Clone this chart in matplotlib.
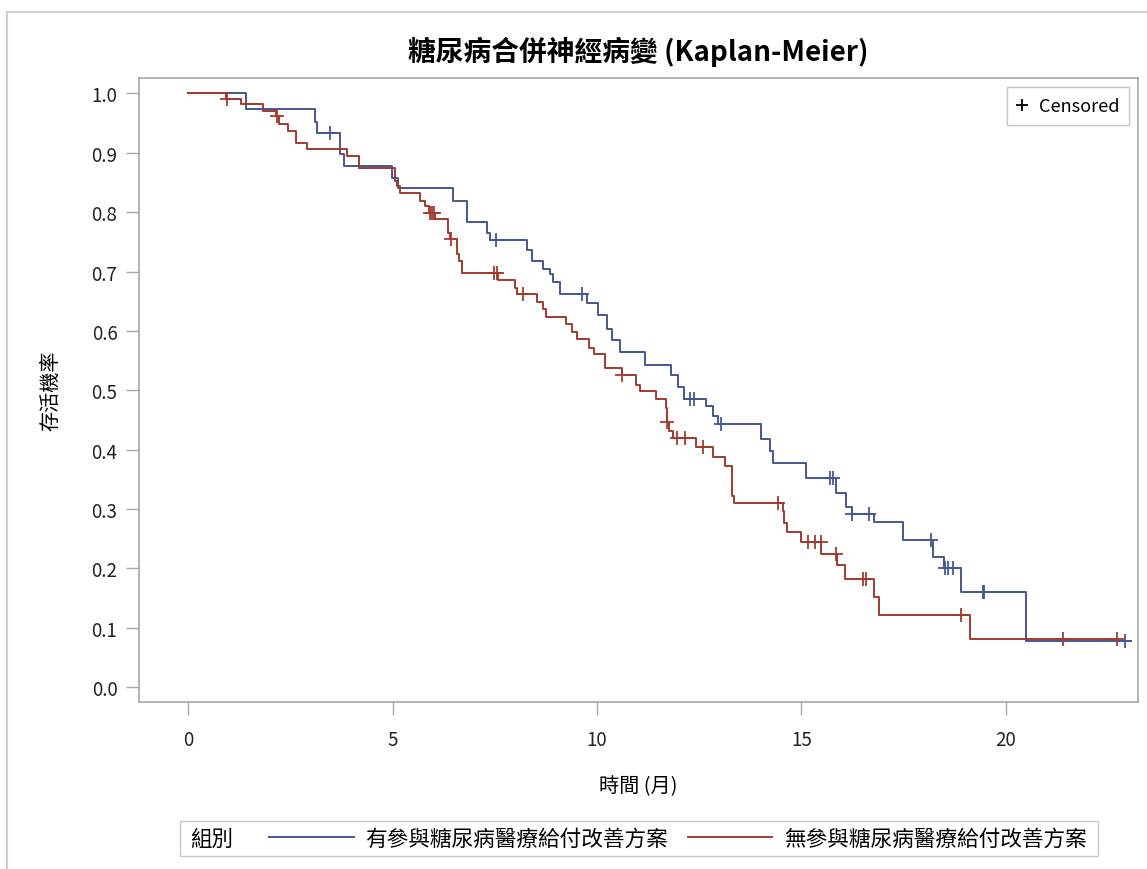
"""
糖尿病合併神經病變 Kaplan-Meier 存活曲線
"""

import numpy as np
import matplotlib
matplotlib.use("Agg")
import matplotlib.pyplot as plt
from matplotlib.lines import Line2D
from matplotlib.patches import Rectangle

plt.rcParams["font.family"] = ["Noto Sans CJK TC", "DejaVu Sans"]

# ─── 資料 ─────────────────────────────────────────────────────────────────────
GRUPOS = ["有參與糖尿病醫療給付改善方案", "無參與糖尿病醫療給付改善方案"]

# 有參與：事件時間 (月) 與存活機率
t_con = [0, 1.42, 3.10, 3.15, 3.72, 3.81, 4.98, 5.14, 6.47, 6.81, 7.32, 7.39,
         8.28, 8.42, 8.68, 8.84, 8.92, 9.10, 9.75, 10.03, 10.25, 10.36, 10.57,
         11.17, 11.80, 11.98, 12.13, 12.66, 12.83, 12.97, 14.01, 14.22, 14.31,
         15.11, 15.84, 16.09, 16.23, 16.77, 17.49, 18.22, 18.49, 18.89, 20.49,
         23.03]
s_con = [1.0, 0.974, 0.952, 0.934, 0.898, 0.877, 0.857, 0.840, 0.819, 0.784,
         0.765, 0.753, 0.737, 0.717, 0.705, 0.696, 0.683, 0.663, 0.647, 0.626,
         0.603, 0.585, 0.565, 0.543, 0.525, 0.505, 0.486, 0.474, 0.457, 0.443,
         0.418, 0.397, 0.377, 0.352, 0.327, 0.303, 0.291, 0.279, 0.248, 0.219,
         0.200, 0.160, 0.078, 0.078]
c_con = [3.47, 7.53, 9.63, 12.27, 12.36, 13.04, 15.70, 15.76, 16.24, 16.66,
         18.16, 18.52, 18.58, 18.71, 19.43, 19.47, 22.91]

# 無參與
t_sin = [0, 0.93, 1.30, 1.84, 2.15, 2.22, 2.45, 2.64, 2.90, 3.88, 4.19, 5.06,
         5.12, 5.18, 5.67, 5.79, 5.90, 6.05, 6.35, 6.41, 6.57, 6.62, 6.71,
         7.59, 7.99, 8.05, 8.53, 8.67, 8.75, 9.25, 9.38, 9.50, 9.81, 9.93,
         10.20, 10.61, 10.95, 11.05, 11.44, 11.69, 11.71, 11.76, 11.86, 12.42,
         12.83, 13.13, 13.31, 13.35, 14.54, 14.58, 14.65, 14.98, 15.49, 15.86,
         16.06, 16.78, 16.90, 19.12, 22.75]
s_sin = [1.0, 0.991, 0.982, 0.971, 0.962, 0.949, 0.937, 0.916, 0.907, 0.895,
         0.874, 0.853, 0.844, 0.833, 0.819, 0.811, 0.798, 0.788, 0.765, 0.755,
         0.729, 0.718, 0.697, 0.686, 0.673, 0.662, 0.649, 0.637, 0.623, 0.612,
         0.598, 0.586, 0.572, 0.561, 0.537, 0.525, 0.509, 0.498, 0.485, 0.471,
         0.446, 0.432, 0.419, 0.404, 0.388, 0.372, 0.322, 0.310, 0.296, 0.277,
         0.261, 0.245, 0.224, 0.205, 0.182, 0.152, 0.121, 0.081, 0.081]
c_sin = [0.95, 2.17, 5.92, 5.97, 6.02, 6.43, 7.47, 7.55, 8.18, 10.62, 11.72,
         11.96, 12.15, 12.60, 14.42, 15.15, 15.32, 15.47, 15.84, 16.50, 16.57,
         18.90, 21.40, 22.72]

COLORES = ["#445694", "#A23A2E"]


def s_en(tiempos, surv, t):
    idx = np.searchsorted(tiempos, t, side="right") - 1
    return np.asarray(surv)[idx]


# ─── Figura ───────────────────────────────────────────────────────────────────
W, H = 1147, 870
fig = plt.figure(figsize=(W / 100, H / 100), dpi=100)
ax = fig.add_axes([139 / W, 1 - 703 / H, (1138 - 139) / W, (703 - 79) / H])

for (t, s, c), color, nombre in zip(
        [(t_con, s_con, c_con), (t_sin, s_sin, c_sin)], COLORES, GRUPOS):
    ax.step(t, s, where="post", color=color, lw=1.4, label=nombre)
    ax.plot(c, s_en(t, s, c), linestyle="none", marker="+", ms=10,
            mew=1.3, color=color)

ax.set_xlim(-1.2, 23.23)
ax.set_ylim(-0.025, 1.026)
ax.set_xticks([0, 5, 10, 15, 20])
ax.set_yticks(np.arange(0, 1.01, 0.1))
ax.set_yticklabels([f"{v:.1f}" for v in np.arange(0, 1.01, 0.1)])

gris = "#a3a7ab"
for sp in ax.spines.values():
    sp.set_color(gris)
    sp.set_linewidth(1.2)
ax.tick_params(length=9.5, width=1.0, color=gris, labelsize=13.5,
               labelcolor="#222222")
ax.tick_params(axis="x", pad=10)
ax.tick_params(axis="y", pad=6)

ax.set_title("糖尿病合併神經病變 (Kaplan-Meier)", fontsize=20,
             fontweight="bold", pad=13)
ax.set_xlabel("時間 (月)", fontsize=14.5, labelpad=18)
ax.set_ylabel("存活機率", fontsize=14.5, labelpad=22)

# Leyenda "Censored"
h_cens = Line2D([], [], linestyle="none", marker="+", color="black", ms=9, mew=1.3)
leg_c = ax.legend([h_cens], ["Censored"], loc="upper right", fontsize=13,
                  fancybox=False, framealpha=1, edgecolor="#c8c8c8",
                  handlelength=0.6, handletextpad=0.6, borderaxespad=0.5,
                  borderpad=0.55)
leg_c.get_frame().set_linewidth(1.0)
ax.add_artist(leg_c)

# Leyenda inferior (grupo)
fig.patches.append(Rectangle((180 / W, 1 - 857 / H), (1098 - 180) / W, 35 / H,
                             transform=fig.transFigure, fill=False,
                             edgecolor="#c8c8c8", lw=1.0))
fig.text(190 / W, 1 - 839.5 / H, "組別", fontsize=15.5, va="center", ha="left")
handles = [Line2D([], [], color=c, lw=1.4) for c in COLORES]
fig.legend(handles, GRUPOS, loc="center left", ncol=2, frameon=False,
           bbox_to_anchor=(269 / W, 1 - 839.5 / H), borderaxespad=0,
           borderpad=0, fontsize=15.6, handlelength=3.9, handletextpad=0.55,
           columnspacing=0.9)

# Marco exterior
fig.add_artist(Line2D([7 / W, 1], [1 - 13 / H, 1 - 13 / H],
                      transform=fig.transFigure, color="#cfcfcf", lw=1.5))
fig.add_artist(Line2D([7 / W, 7 / W], [0, 1 - 13 / H],
                      transform=fig.transFigure, color="#cfcfcf", lw=1.5))

fig.savefig("out.png", dpi=100, facecolor="white")
